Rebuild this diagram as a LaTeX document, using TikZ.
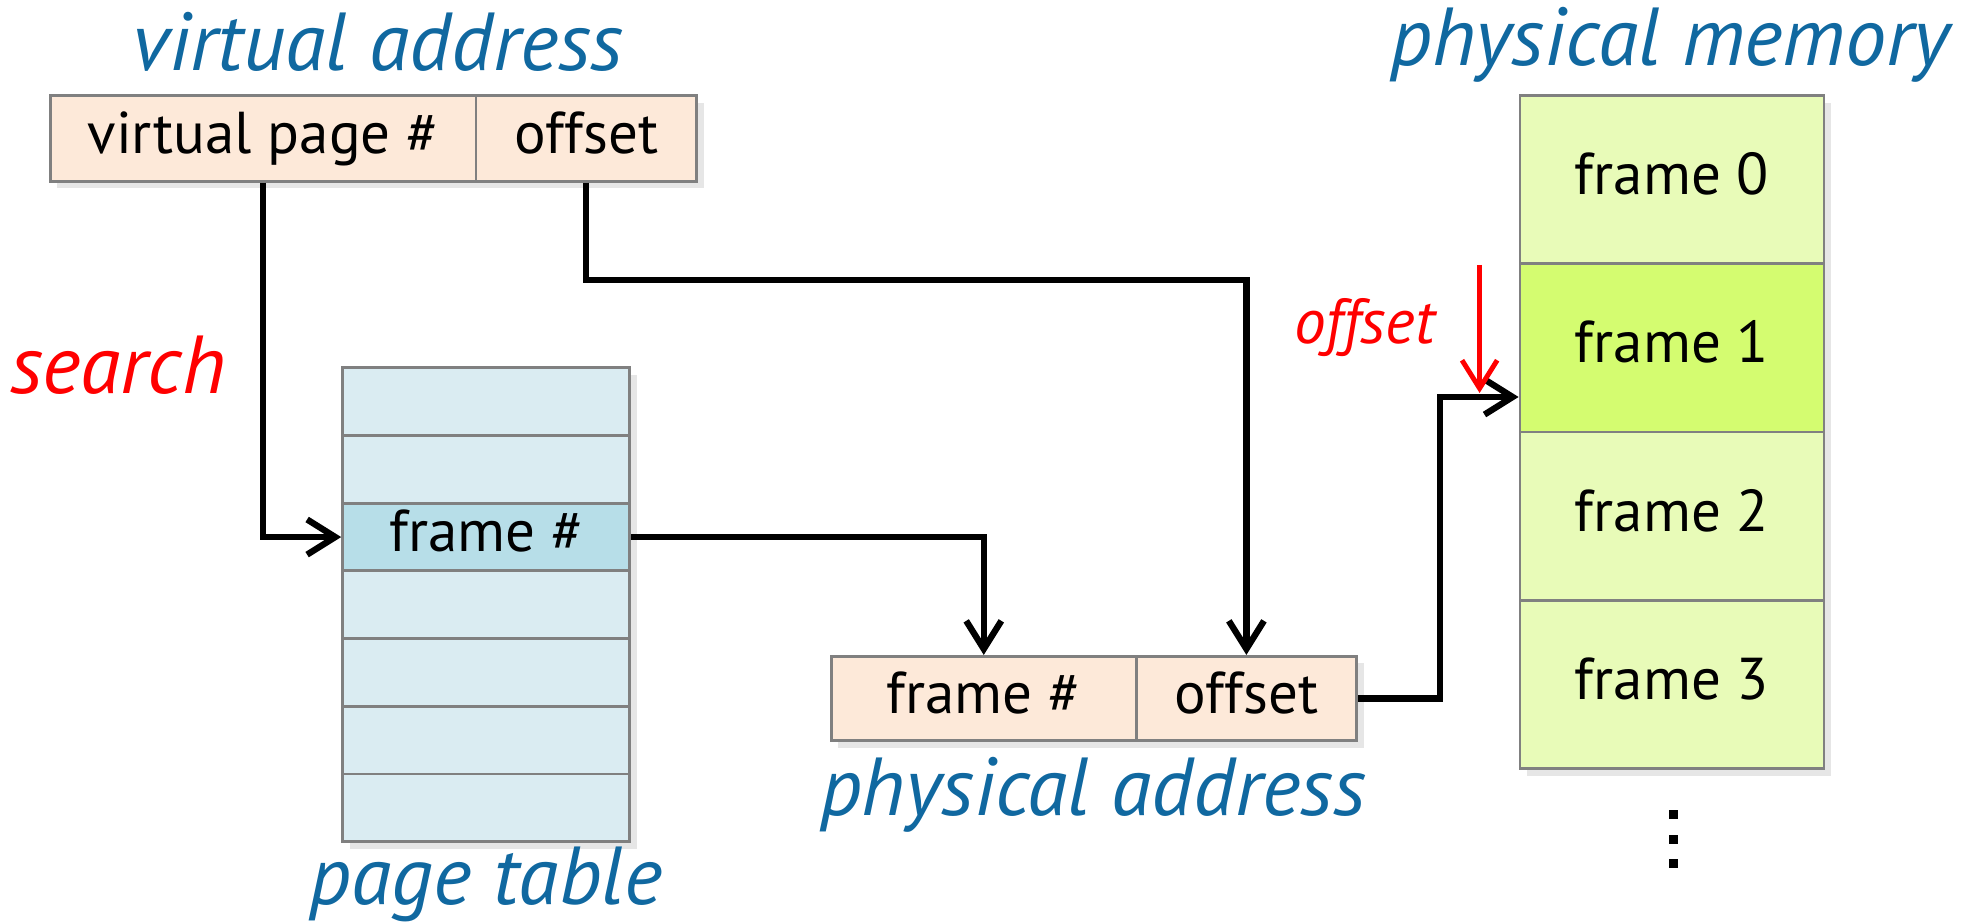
\documentclass[tikz,border=0pt]{standalone}
\usepackage{fontspec}
\setmainfont{PT Sans}
\usetikzlibrary{arrows.meta,calc,shadows}

\definecolor{titolo}{RGB}{16,104,160}
\definecolor{pesca}{RGB}{253,233,217}
\definecolor{azzurro}{RGB}{218,236,242}
\definecolor{azzurroscuro}{RGB}{183,222,232}
\definecolor{verde}{RGB}{232,251,184}
\definecolor{verdescuro}{RGB}{212,252,112}
\definecolor{bordo}{RGB}{128,128,128}

\tikzset{
  cella/.style={draw=bordo, line width=.8pt, inner sep=0pt,
    font=\fontsize{16.8}{20}\selectfont, text height=12pt, text depth=3.5pt,
    drop shadow={shadow xshift=2pt, shadow yshift=-2pt, opacity=.2}},
  titoletto/.style={text=titolo, font=\fontsize{23.4}{28}\selectfont\itshape},
  freccia/.style={line width=1.8pt, -{Straight Barb[length=8pt,width=10pt]}},
}

\begin{document}
\begin{tikzpicture}[x=.1mm,y=-.1mm]
\useasboundingbox (0,0) rectangle (1975,924);
\pgfmathsetmacro{\riga}{67.7}
\pgfmathsetmacro{\passo}{168.2}

% virtual address
\node[cella, fill=pesca, minimum width=42.56mm, minimum height=8.57mm] (vpn) at (263.2,138.5) {virtual page \#};
\node[cella, fill=pesca, minimum width=22.06mm, minimum height=8.57mm] (voff) at (586.3,138.5) {offset};
\node[titoletto] (vatit) at (378,41.6) {virtual address};

% page table
\foreach \i/\testo/\col in {0//azzurro,1//azzurro,2/frame \#/azzurroscuro,3//azzurro,4//azzurro,5//azzurro,6//azzurro}
  \node[cella, fill=\col, minimum width=28.72mm, minimum height=6.77mm] (pt\i) at (486.2,{367.8+\riga*(\i+.5)}) {\testo};
\node[titoletto] (pttit) at (486,884) {page table};

% physical address
\node[cella, fill=pesca, minimum width=30.49mm, minimum height=8.43mm] (pfn) at (983.75,698.5) {frame \#};
\node[cella, fill=pesca, minimum width=22.04mm, minimum height=8.43mm] (poff) at (1246.4,698.5) {offset};
\node[titoletto] (patit) at (1093,795) {physical address};

% physical memory
\foreach \i/\col in {0/verde,1/verdescuro,2/verde,3/verde}
  \node[cella, fill=\col, minimum width=30.4mm, minimum height=16.82mm] (pm\i) at (1672,{95.7+\passo*(\i+.5)}) {frame \i};
\node[titoletto] (pmtit) at (1670,45) {physical memory};
\foreach \y in {815,840,864}
  \fill (1673,\y) +(-4.5,-4.5) rectangle +(4.5,4.5);

\node[titoletto, text=red] (cerca) at (118,365) {search};

% arrows
\draw[freccia] (vpn.south) |- (pt2.west);
\draw[freccia] (voff.south) -- ++(0,97) -| (poff.north);
\draw[freccia] (pt2.east) -| (pfn.north);
\coordinate (ingresso) at ($(pm1.west)+(0,49)$);
\draw[freccia] (poff.east) -- ++(82,0) |- (ingresso);

\coordinate (alto) at ($(ingresso)+(-39,-132)$);
\coordinate (basso) at ($(ingresso)+(-39,-4)$);
\draw[freccia, red, line width=1.4pt] (alto) -- (basso);
\node[text=red, font=\fontsize{18}{21}\selectfont\itshape, anchor=east] (spost) at ($(alto)+(-32,63)$) {offset};

\end{tikzpicture}
\end{document}
